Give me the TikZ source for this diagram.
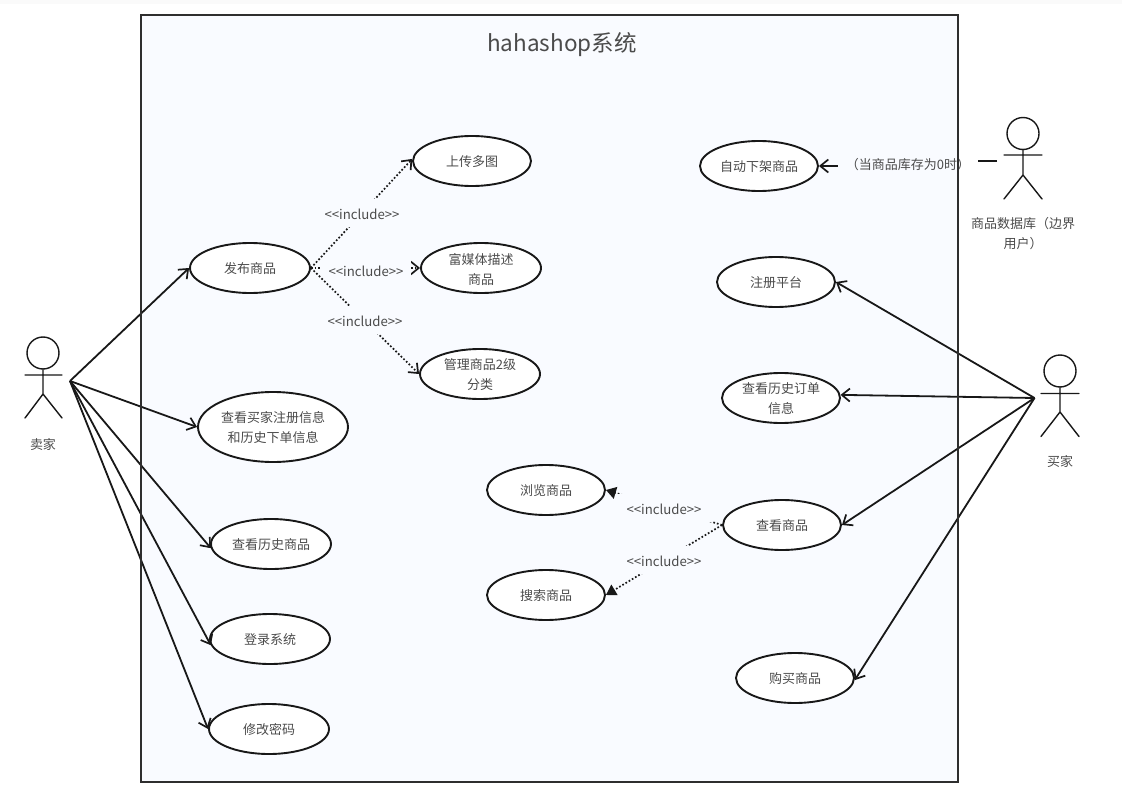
\documentclass[tikz,border=0pt]{standalone}
\usepackage{fontspec}
\setmainfont{Noto Sans CJK SC}
\usetikzlibrary{shapes.geometric,arrows.meta}
\definecolor{framebg}{RGB}{249,251,255}
\definecolor{ink}{RGB}{24,24,24}
\definecolor{txt}{RGB}{75,75,75}
\newcommand{\ut}[1]{\raisebox{-1pt}[\height][\depth]{#1}}
\newcommand{\incltext}{\ut{{<}{<}include{>}{>}}}
\tikzset{
  x=1pt,y=-1pt,
  usecase/.style={draw=ink,line width=1.9pt,ellipse,fill=white,inner sep=0pt,minimum width=118pt,minimum height=50pt,align=center,text=txt,font=\fontsize{13}{20}\selectfont},
  figure/.style={draw=ink,line width=1.4pt,line cap=round},
  figlabel/.style={text=txt,align=center,font=\fontsize{13}{20}\selectfont},
  assoc/.style={draw=ink,line width=1.8pt,-{Straight Barb[length=8pt,width=13pt,line width=1.7pt]}},
  incl/.style={draw=ink,line width=1.7pt,dotted},
  inclopen/.style={incl,-{Straight Barb[length=8pt,width=13pt,line width=1.7pt,line cap=butt]}},
  inclfill/.style={incl,-{Triangle[length=10pt,width=12pt]}},
  incllabel/.style={fill=framebg,text=txt,inner sep=0pt,minimum height=28pt,minimum width=74pt,font=\fontsize{13.2}{14}\selectfont},
}
\begin{document}
\begin{tikzpicture}
\useasboundingbox (0,0) rectangle (1122,797);
\fill[white] (0,0) rectangle (1122,797);
\fill[black!2] (0,0) rectangle (1122,4);
% system frame
\fill[framebg] (141,15) rectangle (958,782);
\node[font=\fontsize{22.5}{26}\selectfont,text=txt] (title) at (562,45) {hahashop系统};
% use cases
\node[usecase,minimum width=120pt] (publish) at (250,268) {\ut{发布商品}};
\node[usecase] (upload) at (472,161) {\ut{上传多图}};
\node[usecase,minimum width=120pt] (rich) at (481,268) {\ut{富媒体描述}\\\ut{商品}};
\node[usecase,minimum width=120pt] (manage) at (480,374) {\ut{管理商品2级}\\\ut{分类}};
\node[usecase,minimum width=150pt,minimum height=70pt] (info) at (273,427) {\ut{查看买家注册信息}\\\ut{和历史下单信息}};
\node[usecase,minimum width=120pt] (history) at (271,544) {\ut{查看历史商品}};
\node[usecase,minimum width=120pt] (login) at (270,639) {\ut{登录系统}};
\node[usecase,minimum width=120pt] (passwd) at (269,729) {\ut{修改密码}};
\node[usecase] (auto) at (759,166) {\ut{自动下架商品}};
\node[usecase] (register) at (776,282) {\ut{注册平台}};
\node[usecase] (orders) at (781,398) {\ut{查看历史订单}\\\ut{信息}};
\node[usecase] (view) at (782,525) {\ut{查看商品}};
\node[usecase] (browse) at (546,490) {\ut{浏览商品}};
\node[usecase] (search) at (546,595) {\ut{搜索商品}};
\node[usecase] (buy) at (795,678) {\ut{购买商品}};
% actors
\node[figure,draw,circle,minimum size=32pt,inner sep=0pt] (seller) at (43,353) {};
\draw[figure] (seller.south) -- (43,394) (25,375) -- (62,375) (25,418) -- (43,394) -- (62,418);
\node[figlabel] (sellerlabel) at (43,444) {\ut{卖家}};
\coordinate (sellerout) at (70,381);
\node[figure,draw,circle,minimum size=32pt,inner sep=0pt] (buyer) at (1060,371) {};
\draw[figure] (buyer.south) -- (1060,412) (1041,393.5) -- (1079,393.5) (1041,436.5) -- (1060,412) -- (1079,436.5);
\node[figlabel] (buyerlabel) at (1060,461) {\ut{买家}};
\coordinate (buyerout) at (1034.5,398);
\node[figure,draw,circle,minimum size=32pt,inner sep=0pt] (db) at (1023,133.5) {};
\draw[figure] (db.south) -- (1023,175) (1004,155) -- (1042,155) (1004,199) -- (1023,175) -- (1042,199);
\node[figlabel] (dblabel) at (1023,233) {\ut{商品数据库（边界}\\\ut{用户）}};
\coordinate (dbout) at (997,161);
% include relations
\draw[inclopen] (publish.east) -- (rich.west);
\node[incllabel,minimum width=90pt] (l2) at (366,270) {\incltext};
\draw[inclopen] (publish.east) -- (upload.178);
\node[incllabel] (l1) at (362,213) {\incltext};
\draw[inclopen] (publish.east) -- (manage.west);
\node[incllabel] (l3) at (365,320) {\incltext};
\draw[inclfill] (view.west) -- (browse.east);
\node[incllabel,minimum width=96pt] (l4) at (664,508) {\incltext};
\draw[inclfill] (view.west) -- (search.east);
\node[incllabel] (l5) at (664,560) {\incltext};
% associations
\draw[assoc] (sellerout) -- (publish.west);
\draw[assoc] (sellerout) -- (info.west);
\draw[assoc] (sellerout) -- (history.184);
\draw[assoc] (sellerout) -- (login.186);
\draw[assoc] (sellerout) -- (passwd.west);
\draw[assoc] (buyerout) -- (register.east);
\draw[assoc] (buyerout) -- (orders.3);
\draw[assoc] (buyerout) -- (view.east);
\draw[assoc] (buyerout) -- (buy.358);
\node[figlabel,inner sep=0pt,minimum width=140pt] (dbcond) at (908,164) {\ut{（当商品库存为0时）}};
\draw[draw=ink,line width=1.8pt] (dbout) -- (dbcond.east |- dbout);
\draw[assoc] (dbcond.west |- auto.east) -- (auto.east);
% frame outline
\draw[black!82,line width=2.5pt] (141,15) rectangle (958,782);
\end{tikzpicture}
\end{document}
